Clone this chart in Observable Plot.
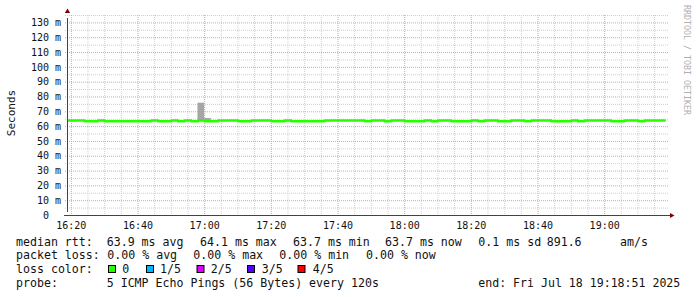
<!DOCTYPE html>
<html><head><meta charset="utf-8">
<script src="https://cdn.jsdelivr.net/npm/d3@7"></script>
<script src="https://cdn.jsdelivr.net/npm/@observablehq/plot@0.6"></script>
<style>
html,body{margin:0;padding:0;background:#fff;}
#wrap{position:relative;width:697px;height:297px;overflow:hidden;background:#fff;}
#chart{position:absolute;left:0;top:0;}
#overlay{position:absolute;left:0;top:0;}
</style></head><body>
<div id="wrap"><div id="chart"></div><svg id="overlay" width="697" height="297"></svg></div>
<script>
// ---- data ----
const rangeStart = "16:18:51";
const rangeEnd = "19:18:51";
const slotTimes = [
  "16:18","16:20","16:22","16:24","16:26","16:28","16:30","16:32","16:34","16:36",
  "16:38","16:40","16:42","16:44","16:46","16:48","16:50","16:52","16:54","16:56",
  "16:58","17:00","17:02","17:04","17:06","17:08","17:10","17:12","17:14","17:16",
  "17:18","17:20","17:22","17:24","17:26","17:28","17:30","17:32","17:34","17:36",
  "17:38","17:40","17:42","17:44","17:46","17:48","17:50","17:52","17:54","17:56",
  "17:58","18:00","18:02","18:04","18:06","18:08","18:10","18:12","18:14","18:16",
  "18:18","18:20","18:22","18:24","18:26","18:28","18:30","18:32","18:34","18:36",
  "18:38","18:40","18:42","18:44","18:46","18:48","18:50","18:52","18:54","18:56",
  "18:58","19:00","19:02","19:04","19:06","19:08","19:10","19:12","19:14","19:16"
];
const lastSlotEnd = "19:18";
const medianMs = [
  64.1,64.1,64.1,63.7,63.7,64.1,63.7,63.7,63.7,63.7,
  63.7,63.7,63.7,64.1,63.7,63.7,64.1,63.7,64.1,63.7,
  64.1,63.7,63.7,64.1,64.1,64.1,63.7,63.7,64.1,64.1,
  64.1,63.7,63.7,64.1,63.7,63.7,63.7,63.7,63.7,64.1,
  64.1,64.1,64.1,64.1,64.1,63.7,64.1,64.1,63.7,64.1,
  64.1,63.7,63.7,63.7,64.1,63.7,64.1,64.1,63.7,63.7,
  63.7,64.1,63.7,64.1,64.1,63.7,63.7,64.1,64.1,63.7,
  64.1,64.1,64.1,63.7,63.7,63.7,64.1,63.7,64.1,64.1,
  64.1,64.1,63.7,63.7,64.1,64.1,63.7,64.1,64.1,64.1
];
const smokeStart = ["16:58","17:00"];
const smokeEnd = ["17:00","17:02"];
const smokeLowMs = [63.9, 63.7];
const smokeHighMs = [75.8, 65.5];
const xTickLabels = ["16:20","16:40","17:00","17:20","17:40","18:00","18:20","18:40","19:00"];
const yTickValues = [0,10,20,30,40,50,60,70,80,90,100,110,120,130];
const yMax = 135;
const yLabel = "Seconds";
const watermark = "RRDTOOL / TOBI OETIKER";
const rttLine = ["median rtt:","63.9 ms avg","64.1 ms max","63.7 ms min","63.7 ms now","0.1 ms sd","891.6","am/s"];
const lossLine = ["packet loss:","0.00 % avg","0.00 % max","0.00 % min","0.00 % now"];
const lossColorTitle = "loss color:";
const lossLabels = ["0","1/5","2/5","3/5","4/5"];
const lossColors = ["#26ff00","#00b8ff","#dd00ff","#5500ff","#ff0000"];
const probeLine = ["probe:","5 ICMP Echo Pings (56 Bytes) every 120s","end: Fri Jul 18 19:18:51 2025"];

// ---- helpers ----
const T = s => new Date(`2025-07-18T${s.length === 5 ? s + ":00" : s}Z`);
const x0 = T(rangeStart), x1 = T(rangeEnd);
const series = slotTimes.map((t, i) => ({t: T(t), v: medianMs[i]}));
series.push({t: T(lastSlotEnd), v: medianMs[medianMs.length - 1]});
const smoke = smokeStart.map((s, i) => ({a: T(s), b: T(smokeEnd[i]), lo: smokeLowMs[i], hi: smokeHighMs[i]}));
const xTicks = xTickLabels.map(T);
const minorX = d3.utcMinute.every(5).range(x0, x1).filter(d => d.getUTCMinutes() % 20 !== 0);
const minorY = d3.range(5, yMax + 1, 10);

const MG = "#f09a9a", mg = "#cfcfcf", AX = "#2c4d43", AR = "#7f0000";
const fmt = d3.utcFormat("%H:%M");

const chart = Plot.plot({
  width: 697, height: 232,
  marginLeft: 67, marginRight: 30, marginTop: 15, marginBottom: 17,
  x: {type: "utc", domain: [x0, x1]},
  y: {domain: [0, yMax]},
  style: {background: "#fff", fontFamily: "DejaVu Sans Mono", color: "#111"},
  marks: [
    Plot.ruleY(minorY, {stroke: mg, strokeDasharray: "1,1", insetLeft: -2, insetRight: -2}),
    Plot.ruleX(minorX, {stroke: mg, strokeDasharray: "1,1"}),
    Plot.ruleY(yTickValues.filter(d => d > 0), {stroke: MG, strokeDasharray: "1,1", insetLeft: -2, insetRight: -2}),
    Plot.ruleX(xTicks, {stroke: MG, strokeDasharray: "1,1"}),
    Plot.rectY(smoke, {x1: "a", x2: "b", y1: "lo", y2: "hi", fill: "#a6a6a6"}),
    Plot.line(series, {x: "t", y: "v", curve: "step-after", stroke: "#26ff00", strokeWidth: 2.5, clip: true}),
    Plot.ruleX([x0], {y1: 0, y2: yMax, stroke: AX, insetTop: -3, insetBottom: -3}),
    Plot.ruleY([0], {x1: x0, x2: x1, stroke: AX, insetLeft: -3, insetRight: -3}),
    Plot.dot([x0], {x: d => d, y: yMax, symbol: "triangle2", r: 2.5, fill: AR, stroke: "none", dy: -4}),
    Plot.dot([x1], {x: d => d, y: 0, symbol: "triangle2", r: 2.5, fill: AR, stroke: "none", dx: 4, rotate: 90}),
    Plot.axisY(yTickValues, {tickSize: 0, tickPadding: 6.5, fontSize: 10, fill: "#111",
      tickFormat: d => d === 0 ? "0\u00a0\u00a0" : `${d} m`, label: null}),
    Plot.axisX(xTicks, {tickSize: 0, tickPadding: 6, fontSize: 10, fill: "#111",
      tickFormat: fmt, label: null})
  ]
});
document.getElementById("chart").appendChild(chart);

// ---- overlay texts (axis title, watermark, legend) ----
const ov = d3.select("#overlay");
const mono = "'DejaVu Sans Mono', monospace";
ov.append("text").attr("transform", "translate(11,113) rotate(-90)")
  .attr("text-anchor", "middle").attr("dominant-baseline", "central")
  .attr("font-family", mono).attr("font-size", 11).attr("fill", "#111").text(yLabel);
ov.append("text").attr("transform", "translate(684,5) rotate(90)")
  .attr("font-family", mono).attr("font-size", 8.3).attr("fill", "#b0b0b0").text(watermark);

const fs = 11.6;
function row(items, xs, y) {
  items.forEach((s, i) => {
    ov.append("text").attr("x", xs[i]).attr("y", y)
      .attr("font-family", mono).attr("font-size", fs).attr("fill", "#111").text(s);
  });
}
row(rttLine, [16, 106.7, 200, 293, 385, 478.3, 546.7, 620], 245.5);
row(lossLine, [16, 107.3, 193.3, 279.3, 366], 259.3);
row([lossColorTitle], [16], 273.1);
const boxX = [108.5, 146.5, 197, 247.5, 298];
lossLabels.forEach((l, i) => {
  ov.append("rect").attr("x", boxX[i]).attr("y", 265.5).attr("width", 7).attr("height", 7)
    .attr("fill", lossColors[i]).attr("stroke", "#000").attr("stroke-width", 1);
});
row(lossLabels, [122.3, 160, 210.7, 261.7, 312.7], 273.1);
row(probeLine.slice(0, 2), [16, 106.7], 286.9);
ov.append("text").attr("x", 478.3).attr("y", 286.9).attr("font-family", mono).attr("font-size", fs)
  .attr("fill", "#111").attr("textLength", 202).attr("lengthAdjust", "spacingAndGlyphs").text(probeLine[2]);
</script>
</body></html>
